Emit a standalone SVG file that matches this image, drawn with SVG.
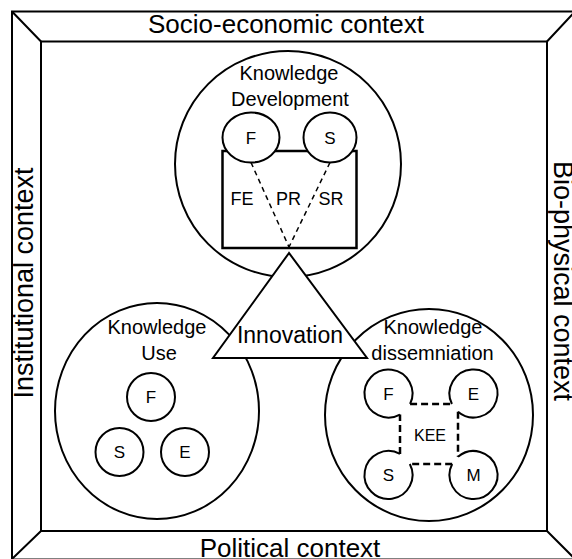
<svg xmlns="http://www.w3.org/2000/svg" width="572" height="559" viewBox="0 0 572 559">
<style>
 .ln{fill:none;stroke:#000;stroke-width:2}
 .sh{fill:#fff;stroke:#000;stroke-width:2}
 text{font-family:"Liberation Sans",Arial,sans-serif;fill:#000;text-anchor:middle}
 .ctx{font-size:26px}
 .vctx{font-size:27px}
 .lbl{font-size:20px}
 .sm{font-size:17px}
 .dash{fill:none;stroke:#000;stroke-width:1.5;stroke-dasharray:5,4}
 .kee{fill:none;stroke:#000;stroke-width:2.5;stroke-dasharray:7,4}
</style>
<rect width="572" height="559" fill="#fff"/>
<g id="frame">
 <rect x="12" y="11.5" width="563" height="548" class="ln"/>
 <rect x="41" y="41.5" width="506" height="489.5" class="ln"/>
 <path class="ln" d="M12 11.5 L41 41.5 M575 11.5 L547 41.5 M547 531 L575 559 M41 531 L12 559"/>
 <text class="ctx" x="286" y="33">Socio-economic context</text>
 <text class="ctx" x="290" y="556.5">Political context</text>
 <text class="vctx" transform="translate(32.5,283) rotate(-90)">Institutional context</text>
 <text class="vctx" transform="translate(553.5,281) rotate(90)">Bio-physical context</text>
</g>
<g id="knowledge-development">
 <circle cx="288" cy="164" r="113" class="sh"/>
 <text class="lbl" x="289" y="80">Knowledge</text>
 <text class="lbl" x="290" y="106">Development</text>
 <rect x="222.5" y="151" width="134" height="97" fill="#fff" stroke="#000" stroke-width="2.5"/>
 <text class="sm" x="242" y="205" style="font-size:18px">FE</text>
 <text class="sm" x="288.5" y="205" style="font-size:18px">PR</text>
 <text class="sm" x="331" y="205" style="font-size:18px">SR</text>
</g>
<g id="kd-F">
 <ellipse cx="251" cy="137.5" rx="28.5" ry="25" class="sh"/>
 <text class="sm" x="251" y="144">F</text>
</g>
<g id="kd-S">
 <ellipse cx="330" cy="137.5" rx="26.5" ry="25" class="sh"/>
 <text class="sm" x="330" y="144">S</text>
</g>
<g id="knowledge-use">
 <ellipse cx="157" cy="411" rx="102" ry="108" class="sh"/>
 <text class="lbl" x="157" y="334">Knowledge</text>
 <text class="lbl" x="159" y="360">Use</text>
</g>
<g id="ku-F"><circle cx="151" cy="397" r="24" class="sh"/><text class="sm" x="151" y="403">F</text></g>
<g id="ku-S"><circle cx="119.5" cy="452" r="24" class="sh"/><text class="sm" x="119.5" y="458">S</text></g>
<g id="ku-E"><circle cx="185" cy="452" r="24" class="sh"/><text class="sm" x="185" y="458">E</text></g>
<g id="knowledge-dissemination">
 <ellipse cx="429" cy="415" rx="104" ry="106" class="sh"/>
 <text class="lbl" x="433" y="334">Knowledge</text>
 <text class="lbl" x="432.5" y="360">dissemniation</text>
</g>
<g id="kee">
 <path class="kee" d="M410.08 404 H451.92 M458 411.82 V456.68 M452.17 464 H409.83 M400 453.93 V414.57"/>
 <text class="sm" x="430" y="441" style="font-size:16px">KEE</text>
</g>
<g id="kdis-F"><path class="ln" d="M410.08 404 A24 24 0 1 0 400 414.57"/><text class="sm" x="388.5" y="400">F</text></g>
<g id="kdis-E"><path class="ln" d="M451.92 404 A24 24 0 1 1 458 411.82"/><text class="sm" x="473.5" y="400">E</text></g>
<g id="kdis-S"><path class="ln" d="M400 453.93 A24 24 0 1 0 409.83 464"/><text class="sm" x="388.5" y="481">S</text></g>
<g id="kdis-M"><path class="ln" d="M452.17 464 A24 24 0 1 0 458 456.68"/><text class="sm" x="473.5" y="481">M</text></g>
<g id="connectors">
 <path class="dash" d="M251 162.5 L289 247"/>
 <path class="dash" d="M330 162.5 L289 247"/>
</g>
<g id="innovation">
 <polygon points="289,253 213,358 367,358" class="sh"/>
 <text x="290" y="343" style="font-size:23px">Innovation</text>
</g>
</svg>
